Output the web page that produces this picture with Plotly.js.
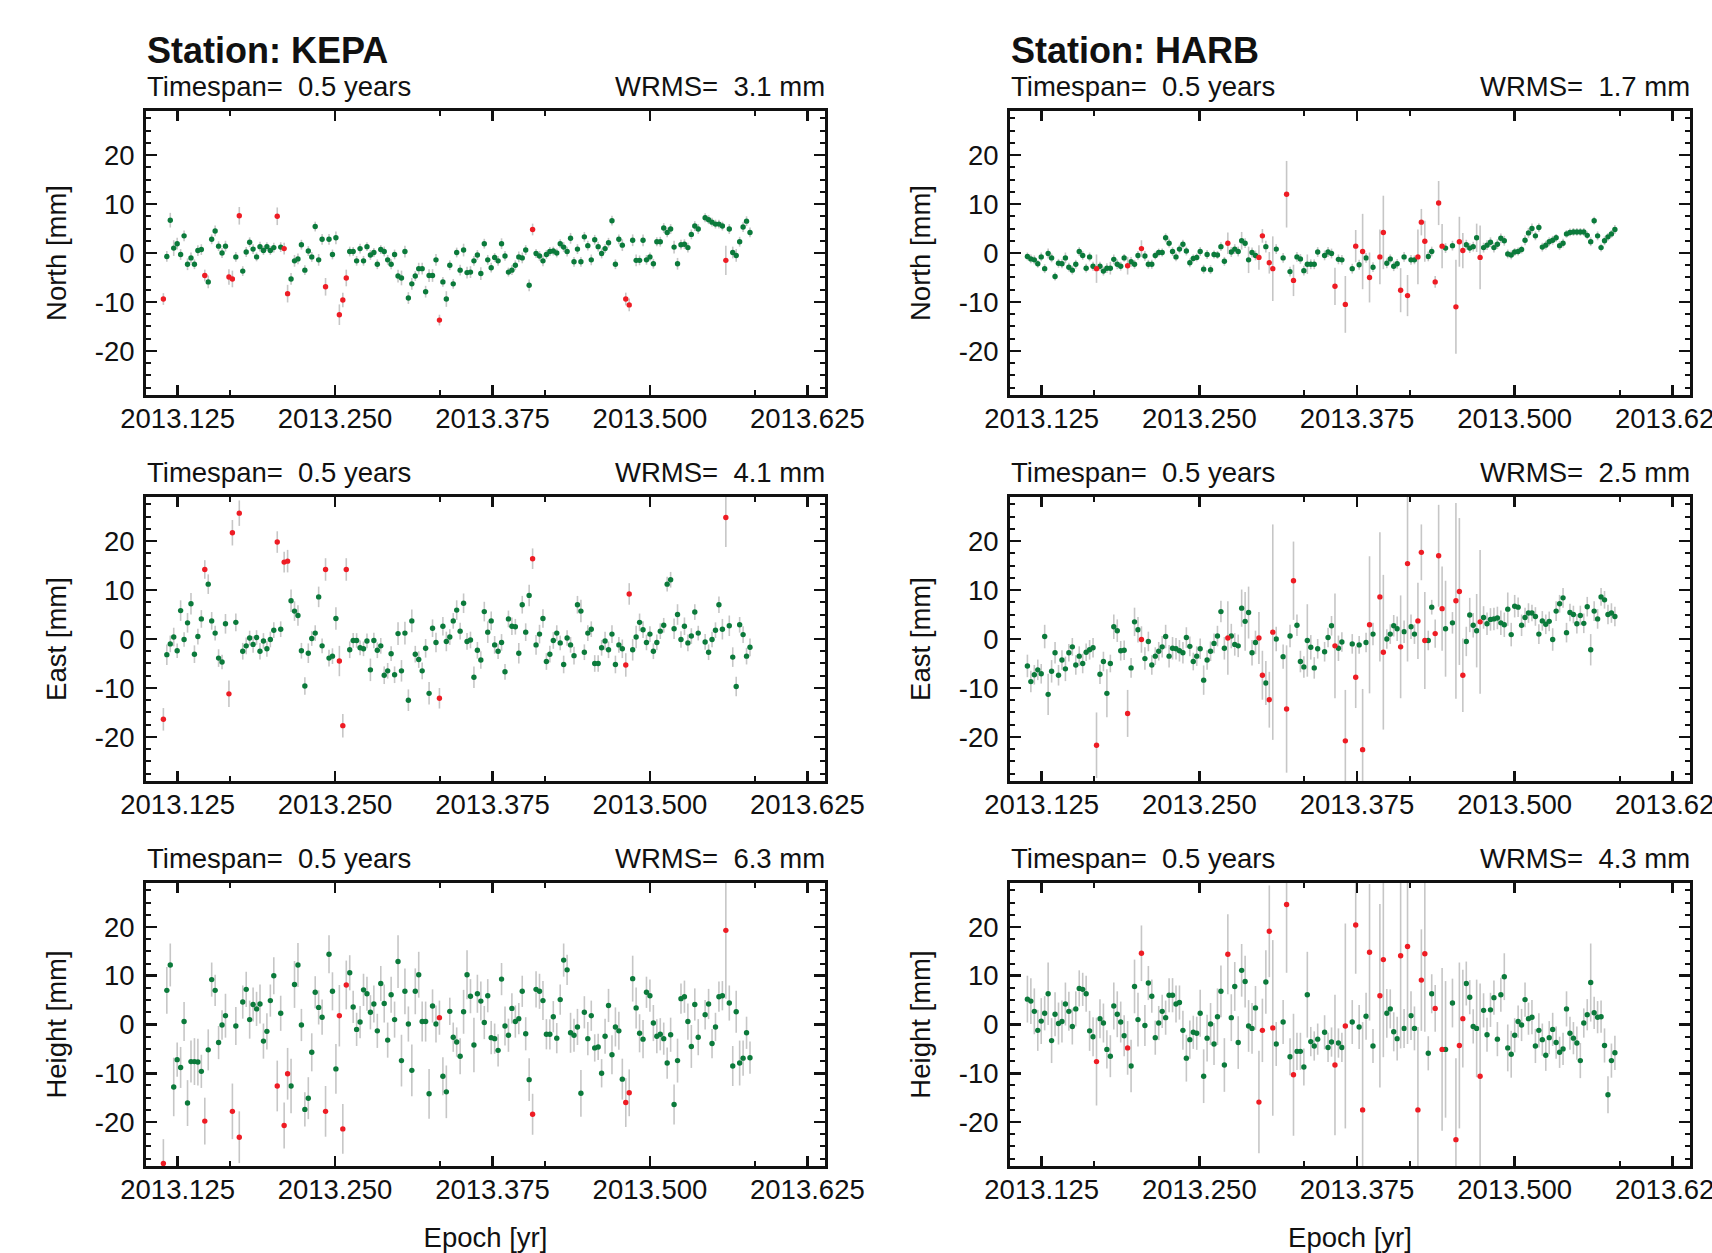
<!DOCTYPE html>
<html>
<head>
<meta charset="utf-8">
<script src="https://cdn.plot.ly/plotly-3.0.1.min.js"></script>
<style>
html, body { margin: 0; padding: 0; background: #ffffff; }
#chart { width: 1712px; height: 1253px; }
</style>
</head>
<body>
<div id="chart"></div>
<script>
// ---------------- DATA ----------------
const stations = ['KEPA', 'HARB'];
const componentTitles = ['North [mm]', 'East [mm]', 'Height [mm]'];
const timespanYears = 0.5;
const wrmsKEPA = [3.1, 4.1, 6.3];   // North, East, Height
const wrmsHARB = [1.7, 2.5, 4.3];
const xTickVals = [2013.125, 2013.25, 2013.375, 2013.5, 2013.625];
const xTickText = ['2013.125', '2013.250', '2013.375', '2013.500', '2013.625'];
const yTickVals = [-20, -10, 0, 10, 20];
const yTickText = ['-20', '-10', '0', '10', '20'];

// day of year 2013 of each daily solution
const kepaDoy = [
  42,43,44,45,46,47,48,49,50,51, 52,53,54,55,56,57,58,59,60,61,
  62,63,64,65,66,67,68,69,70,71, 72,73,74,75,76,77,78,79,80,81,
  82,83,84,85,86,87,88,89,90,91, 92,93,94,95,96,97,98,99,100,101,
  102,103,104,105,106,107,108,109,110,111, 112,113,114,115,116,117,118,119,120,121,
  122,123,124,125,126,127,128,129,130,131, 132,133,134,135,136,137,138,139,140,141,
  142,143,144,145,146,147,148,149,150,151, 152,153,154,155,156,157,158,159,160,161,
  162,163,164,165,166,167,168,169,170,171, 172,173,174,175,176,177,178,179,180,181,
  182,183,184,185,186,187,188,189,190,191, 192,193,194,195,196,197,
  199,200,201,202,203,204,205,206,207,208,209,210,211,212
];
const kepaOutlierDoy = [42, 54, 61, 62, 64, 75, 77, 78, 89, 93, 94, 95, 122, 149, 176, 177, 205];

const kepaNorth = [
  -9.4,-0.7,6.7,1.0,1.9,-0.3,3.5,-2.3,-1.0,-2.3, 0.5,0.7,-4.6,-5.9,2.8,4.5,1.4,0.0,1.4,-4.9,
  -5.3,-0.8,7.6,-3.7,0.2,2.2,0.8,-0.8,1.3,0.5, 1.3,0.5,1.1,7.5,1.2,0.9,-8.3,-5.3,-1.6,-1.2,
  1.7,-3.5,0.4,-0.8,5.4,-1.4,2.8,-6.9,2.8,-0.3, 3.1,-12.6,-9.6,-5.1,0.3,0.3,-1.6,0.9,-1.6,1.3,
  -0.4,0.1,-2.3,0.7,0.3,-1.4,-2.3,-0.3,-4.7,-5.1, 0.3,-9.2,-6.3,-4.7,-3.2,-3.2,-7.9,-4.6,-4.6,-1.4,
  -13.7,-5.9,-9.4,-2.5,-6.3,0.1,-3.5,0.6,-4.0,-3.9, -1.6,-0.4,-4.2,1.9,-1.4,-3.0,-0.9,-1.6,1.9,-0.6,
  -3.9,-3.5,-2.5,-0.8,-1.0,0.6,-6.6,4.8,-0.1,-0.6, -1.6,-0.3,0.3,0.4,0.0,1.9,1.2,0.3,3.0,-1.8,
  0.8,-1.8,3.3,1.5,-1.4,2.7,1.3,-0.1,0.9,2.1, 6.6,-2.3,2.8,1.6,-9.4,-10.6,2.6,-1.5,-1.5,2.6,
  -1.4,-0.8,-2.2,2.3,2.3,5.1,4.2,4.9,1.2,-2.2, 1.7,1.8,1.1,3.8,5.5,4.9,7.2,6.8,6.3,5.9,
  5.9,5.5,-1.5,4.9,0.1,-0.5,2.3,5.3,6.5,4.2
];
const kepaNorthSig = [
  1.2,1.1,1.5,1.6,1.2,1.1,1.1,1.2,1.1,1.0, 1.1,1.1,1.2,1.3,1.0,1.1,1.0,1.0,1.1,1.6,
  1.7,1.0,1.8,1.0,1.0,1.0,1.0,0.9,1.0,0.9, 0.9,0.9,1.0,1.8,1.0,1.2,1.8,1.2,1.2,1.1,
  1.0,1.0,1.0,1.0,1.0,1.2,1.1,1.8,1.1,1.0, 1.3,2.1,1.5,1.7,1.0,0.9,1.0,1.0,1.0,0.9,
  1.0,0.9,1.0,0.9,1.0,1.0,1.0,1.0,1.3,1.5, 1.2,1.2,1.2,1.0,1.2,1.2,1.2,1.3,1.3,1.2,
  1.1,1.0,1.6,1.0,1.0,1.0,1.1,1.3,1.2,1.2, 1.0,1.0,1.3,1.0,1.0,1.0,0.9,1.0,1.1,1.0,
  0.9,1.0,1.0,1.1,1.1,1.0,1.2,1.2,0.9,1.0, 1.1,0.9,0.9,0.9,0.9,0.9,1.0,1.0,1.1,1.0,
  1.0,1.0,1.0,1.0,1.1,1.0,1.0,1.0,0.9,1.0, 1.0,1.0,1.0,1.2,1.3,1.3,1.2,1.2,1.0,1.2,
  1.0,0.9,1.0,0.9,1.0,1.0,1.0,1.0,1.3,1.2, 1.0,1.0,1.0,1.0,1.0,1.0,0.9,0.9,0.9,0.9,
  0.9,0.9,3.0,1.0,1.2,1.3,1.0,1.0,1.0,1.0
];
const kepaEast = [
  -16.4,-3.2,-1.0,0.4,-2.4,5.8,-0.1,3.3,7.2,-3.1, 0.5,4.1,14.2,11.2,3.7,1.2,-3.9,-4.7,3.1,-11.2,
  21.7,3.4,25.7,-2.5,-1.4,0.2,-1.1,0.3,-2.5,-0.4, -2.0,-0.1,1.8,19.8,2.0,15.7,15.9,7.8,5.7,4.8,
  -2.4,-9.6,-2.9,0.1,1.2,8.6,-1.4,14.2,-3.9,-3.5, 4.2,-4.5,-17.7,14.2,-2.2,-0.3,-0.3,-1.8,-2.0,-0.4,
  -6.3,-0.3,-2.3,-1.4,-7.4,-6.5,-3.0,-7.3,1.1,-6.5, 1.2,-12.5,3.7,-3.1,-4.2,-6.5,-1.9,-11.1,2.2,-0.7,
  -12.1,2.6,-0.5,0.4,3.7,5.9,1.6,7.3,-0.5,-0.2, -7.8,-2.3,-4.3,5.6,1.4,3.7,-1.2,-2.5,-0.7,-6.7,
  4.1,2.6,2.5,-2.9,7.0,1.4,8.9,16.4,-1.2,1.0, 4.2,-4.6,-3.1,-0.3,1.2,-0.8,-5.2,0.2,-1.2,-3.4,
  7.0,5.7,-2.7,1.2,2.0,-5.0,-5.0,-1.8,-0.4,-2.2, 1.0,-5.2,-1.2,-2.0,-5.3,9.2,-2.2,0.4,3.4,1.9,
  -0.7,1.0,-2.5,-0.7,1.6,2.8,11.2,12.1,2.1,5.0, -0.1,2.6,-0.8,0.6,5.5,1.2,-0.6,-2.7,-0.1,1.8,
  7.0,2.0,24.8,2.7,-3.7,-9.7,2.9,0.9,-3.5,-1.7
];
const kepaEastSig = [
  2.3,2.1,1.7,1.9,1.5,2.1,1.5,2.0,2.2,1.8, 1.6,1.8,1.9,2.0,1.8,1.5,1.8,1.5,2.0,2.7,
  2.6,1.8,2.6,1.7,1.7,1.5,1.7,1.5,1.7,1.6, 1.6,1.6,1.6,2.2,1.6,2.1,2.3,2.3,2.0,2.1,
  1.6,1.8,2.0,1.5,1.6,2.1,1.5,2.3,1.7,1.6, 2.3,3.1,2.4,2.3,1.7,1.5,1.5,1.5,1.5,1.5,
  2.3,1.6,1.6,1.6,1.8,1.6,1.5,1.7,2.3,2.2, 2.3,2.2,2.3,1.7,1.7,1.7,1.9,2.3,1.8,2.0,
  2.1,1.9,2.0,1.6,1.6,2.0,1.7,2.0,1.7,1.7, 2.2,1.7,1.8,2.0,2.2,1.9,1.8,1.6,1.7,1.6,
  1.7,1.8,1.6,2.1,1.8,1.8,2.2,2.1,2.0,1.9, 1.9,1.7,1.7,1.7,1.6,1.5,1.8,1.6,1.6,1.8,
  1.8,2.3,1.6,1.6,1.6,1.7,1.7,1.6,1.9,1.7, 1.8,1.8,1.6,1.9,2.4,2.2,2.2,2.3,1.8,1.7,
  1.6,1.6,1.6,1.6,1.6,1.5,1.5,1.6,2.1,2.1, 1.7,1.8,1.7,1.6,1.6,1.5,1.6,1.6,1.6,1.6,
  1.7,2.1,6.0,2.1,2.0,2.0,1.6,1.7,1.7,1.8
];
const kepaHeight = [
  -28.5,7.0,12.2,-12.8,-7.2,-8.8,0.6,-16.1,-7.6,-7.6, -7.7,-9.6,-19.8,-5.2,9.2,7.0,-3.7,-0.1,1.8,null,
  -17.8,-0.3,-23.1,4.6,7.2,1.0,4.1,3.2,4.2,-3.4, -1.4,4.9,10.0,-12.6,2.3,-20.7,-10.1,-12.6,8.2,12.2,
  -0.1,-17.4,-15.1,-5.7,6.6,3.5,1.5,-17.8,14.4,6.8, -9.1,1.8,-21.4,8.1,10.6,3.6,-1.0,0.5,7.1,6.3,
  2.5,4.2,-1.3,8.4,4.3,-3.2,6.1,1.0,12.9,-7.4, 6.8,0.1,-9.4,6.8,10.2,0.6,0.6,-14.2,3.8,0.1,
  1.4,-10.6,-13.8,2.7,-2.6,-3.6,-6.5,2.6,10.2,5.8, -4.2,6.3,4.8,0.4,5.9,-2.7,-2.9,-5.3,9.3,-0.3,
  -2.2,3.3,0.6,1.2,6.8,-1.9,-11.3,-18.4,7.2,6.8, 4.9,-2.0,-2.0,1.6,-2.8,5.1,13.2,11.2,-1.7,-2.2,
  -0.5,-14.1,2.5,-2.9,1.8,-4.8,-4.6,-10.0,-2.4,3.9, -6.2,-0.5,-1.3,-11.2,-16.0,-14.0,9.4,3.4,-1.8,-3.0,
  6.6,5.9,0.3,-2.4,-2.0,-2.9,-7.9,-2.1,-16.4,-7.4, 5.3,5.7,0.6,-4.5,4.1,-2.6,2.0,4.2,-3.9,-0.5,
  5.7,5.9,19.3,4.4,-8.5,2.6,-7.9,-6.9,-1.7,-6.8
];
const kepaHeightSig = [
  5.0,4.8,4.4,6.0,3.5,4.2,4.0,4.7,4.3,4.8, 4.8,3.4,4.8,4.2,3.5,3.2,3.4,3.0,4.5,5.0,
  5.7,3.9,5.3,3.4,3.6,3.9,3.5,3.5,4.0,3.6, 3.7,3.3,3.8,5.2,3.6,4.7,5.3,5.6,4.8,4.5,
  3.3,3.5,4.3,3.9,3.3,3.5,3.6,5.2,3.9,3.9, 5.1,6.3,5.1,5.0,3.6,3.3,3.4,3.3,3.3,3.5,
  3.5,3.8,3.5,3.6,3.9,3.6,3.7,3.7,5.4,5.3, 4.7,3.6,5.3,4.7,4.7,4.1,4.1,5.1,3.4,3.8,
  3.5,3.9,5.4,2.8,3.0,3.0,3.7,4.5,5.0,3.5, 5.6,3.9,4.0,3.4,3.4,3.4,3.1,3.3,3.3,4.0,
  3.4,3.1,3.3,3.2,3.2,3.4,4.4,4.2,3.7,3.6, 4.0,3.1,3.1,3.2,3.1,3.1,3.4,3.1,4.1,3.4,
  3.7,4.8,3.3,3.4,3.1,2.8,2.7,2.9,3.6,3.4, 4.0,4.0,3.9,4.2,5.0,4.8,4.7,4.2,3.9,3.9,
  3.2,3.3,3.7,3.5,3.3,3.3,3.2,3.5,4.1,4.5, 3.1,3.3,3.7,4.4,3.3,3.7,3.0,3.1,3.0,2.9,
  3.1,3.0,14.0,3.6,4.1,4.3,4.6,3.6,3.3,3.3
];

const harbDoy = [
  42,43,44,45,46,47,48,49,50,51, 52,53,54,55,56,57,58,59,60,61,
  62,63,64,65,66,67,68,69,70,71, 72,73,74,75,76,77,78,79,80,81,
  82,83,84,85,86,87,88,89,90,91, 92,93,94,95,96,97,98,99,100,101,
  102,103,104,105,106,107,108,109,110,111, 112,113,114,
  116,117,118,119,120,121,122,123,124,125,126,
  128,129,130,131,132,133,134,
  136,137,138,139,140,141,142,
  144,145,146,147,148,149,150,151,152,153, 154,155,156,157,158,159,160,161,162,163,
  165,166,167,168,169,170,171,172,173,174, 175,176,177,178,179,180,181,182,183,184,
  185,186,187,188,189,190,191,192,193,194, 195,196,197,198,199,200,201,202,203,204,
  205,206,207,208,209,210,211,212
];
const harbOutlierDoy = [62, 71, 75, 100, 109, 110, 112, 113, 117, 119, 131, 134, 137, 139, 141,
  144, 145, 150, 152, 155, 156, 157, 160, 161, 162, 166, 167, 168, 173];

const harbNorth = [
  -0.7,-1.2,-1.4,-2.2,-0.8,-3.2,-0.1,-1.0,-4.8,-2.1, -2.2,-1.0,-2.9,-3.5,-2.3,0.3,-0.5,-3.1,-0.8,-2.7,
  -3.2,-2.7,-3.7,-3.1,-3.1,-1.3,-2.3,-2.7,-1.0,-2.6, -1.8,-2.3,-0.5,0.9,-0.6,-2.3,-2.3,-0.5,0.1,0.1,
  3.1,2.0,0.3,-0.8,0.8,1.8,0.4,-2.0,-1.1,-0.9, 0.3,-3.3,-0.3,-3.4,-0.3,-0.4,1.3,-1.7,2.0,0.2,
  0.8,0.3,2.5,2.0,-1.4,0.1,-0.5,-0.9,3.5,1.3, -2.0,-3.2,0.8,-1.0,12.0,-3.8,-5.6,-0.8,-1.2,-3.6,
  -2.3,-2.3,-2.3,0.2,-0.5,0.2,-0.1,-6.8,-1.3,-1.4, -10.5,-3.2,1.4,-2.4,0.3,-1.0,-5.0,-2.9,-0.8,4.2,
  -2.1,-1.2,-2.7,-2.2,-7.6,-0.8,-8.7,-1.4,-1.4,-0.8, 6.3,2.4,-0.7,0.3,-5.9,10.2,1.4,1.0,1.5,-11.0,
  2.3,0.5,1.7,1.0,1.3,3.1,-0.9,1.1,1.6,2.2, 1.1,1.8,3.0,2.5,-0.2,-0.4,0.2,0.3,0.7,2.6,
  4.1,5.0,3.5,5.2,1.2,1.6,2.3,2.6,3.1,1.5, 2.0,3.9,4.2,4.3,4.3,4.3,4.3,3.6,2.3,6.6,
  3.5,1.1,2.5,3.3,3.9,4.8
];
const harbNorthSig = [
  0.8,0.9,0.9,0.8,0.9,0.9,1.0,0.9,0.8,0.9, 0.9,1.1,0.9,0.9,0.9,0.9,0.9,0.9,0.9,0.9,
  2.9,0.9,0.9,1.0,1.3,1.0,1.0,0.9,0.8,1.8, 1.0,0.9,0.9,1.7,1.0,0.9,0.9,0.8,0.8,0.8,
  0.9,0.9,0.9,0.9,0.9,0.9,0.9,0.9,0.8,0.8, 0.9,0.9,0.9,0.9,0.8,0.8,0.9,0.9,2.2,1.0,
  1.0,1.0,1.8,1.0,2.7,1.0,1.0,2.5,1.4,1.2, 2.2,6.6,1.0,1.0,6.8,1.0,3.2,1.0,1.0,1.0,
  2.0,1.0,1.0,1.0,1.0,1.0,1.0,3.8,1.0,1.0, 5.8,1.0,3.3,1.0,7.7,1.0,5.1,1.0,5.6,7.5,
  1.0,0.9,1.0,1.0,4.5,1.0,4.2,1.0,0.9,5.6, 2.7,4.2,1.0,1.0,1.2,4.5,4.5,1.0,1.0,9.6,
  5.1,3.6,1.0,1.0,1.0,2.9,6.5,1.0,1.0,1.0, 1.0,1.0,1.0,1.0,0.9,0.9,0.8,0.8,0.8,1.0,
  1.0,1.0,0.9,0.9,0.9,0.9,0.9,0.9,0.8,0.9, 0.9,0.8,0.8,0.8,0.8,0.8,0.8,0.8,0.9,0.8,
  0.9,0.8,0.9,0.8,0.8,0.9
];
const harbEast = [
  -5.5,-8.7,-7.3,-6.3,-7.1,0.5,-11.3,-6.6,-2.8,-7.4, -4.3,-6.1,-2.8,-1.6,-5.3,-3.5,-5.0,-2.7,-2.2,-1.8,
  -21.7,-7.2,-4.6,-11.1,-5.0,2.5,1.7,-2.4,-2.3,-15.2, -5.9,3.5,1.9,-0.1,-4.0,-0.5,-5.3,-3.5,-2.5,-1.6,
  0.5,-3.5,-1.9,-2.0,-2.4,-2.8,0.3,-1.5,-4.6,-3.5, -2.0,-8.4,-4.3,-2.5,-0.9,0.6,5.6,-1.9,0.2,0.6,
  -1.1,-1.4,6.3,3.6,5.4,-2.8,-0.7,0.2,-7.4,-9.0, -12.4,1.4,0.0,-3.6,-14.3,0.6,11.9,2.8,-4.6,-5.7,
  -0.3,-1.7,-5.9,-2.0,-2.6,0.3,2.7,-1.4,-1.9,-0.6, -20.8,-1.0,-7.8,-1.2,-22.6,-0.7,2.9,1.0,8.6,-2.7,
  0.0,1.0,2.7,2.1,-1.6,1.5,15.4,2.5,1.0,3.7, 17.7,-0.3,-0.3,6.5,1.1,17.0,6.2,2.1,3.3,7.8,
  9.7,-7.4,-0.5,4.9,2.8,1.7,3.5,4.4,3.1,4.0, 4.1,4.3,3.3,2.9,6.1,0.9,6.7,6.5,2.8,4.4,
  5.3,5.3,4.6,1.0,3.7,3.0,3.6,-0.1,5.7,7.2, 8.4,1.3,5.4,5.0,3.1,4.8,3.2,6.6,-2.2,5.7,
  4.1,8.6,8.0,5.0,5.3,4.6
];
const harbEastSig = [
  2.3,2.2,2.0,2.1,2.0,2.4,4.2,2.3,2.2,2.1, 2.0,2.5,1.8,1.8,2.0,2.0,2.0,1.8,2.0,2.0,
  6.7,2.0,2.0,4.9,1.8,2.5,2.3,2.0,2.0,4.8, 2.0,2.9,2.6,2.7,2.3,2.0,2.0,1.8,1.9,2.2,
  2.4,2.3,2.3,2.2,2.2,2.2,2.1,2.0,1.8,2.0, 2.1,3.0,2.0,2.0,2.0,2.1,2.2,2.3,7.5,2.5,
  2.3,2.3,3.8,6.0,5.3,2.6,2.4,5.3,5.0,4.5, 5.7,22.0,2.5,2.5,13.0,2.3,8.0,2.2,2.2,2.2,
  7.4,2.5,2.2,2.0,2.0,2.0,2.0,10.7,2.6,2.0, 10.4,2.0,6.3,1.8,12.4,2.0,14.0,2.3,13.2,15.8,
  2.0,2.0,2.2,2.5,10.5,2.3,20.0,2.5,2.0,7.8, 5.7,9.9,2.0,1.5,2.9,10.4,8.6,9.8,2.2,20.0,
  15.0,7.5,3.0,3.5,2.5,7.5,14.7,2.3,2.3,2.3, 2.3,2.3,2.5,2.5,3.4,2.4,2.3,2.0,2.2,2.0,
  2.0,1.7,1.9,2.0,2.0,2.0,2.0,2.3,2.0,1.8, 2.0,2.0,1.8,1.8,2.0,2.0,2.0,2.0,3.2,2.0,
  2.0,1.8,1.8,2.0,2.0,2.0
];
const harbHeight = [
  5.2,4.8,2.7,-1.2,0.7,2.3,6.3,-3.3,2.1,0.2, 0.6,4.2,2.7,-0.4,3.2,7.4,7.2,6.3,-1.3,-2.5,
  -7.6,1.2,0.3,-5.1,-6.5,3.8,2.1,0.5,-2.3,-4.8, -8.5,7.8,1.0,14.6,-0.2,8.5,5.8,-2.7,0.3,2.7,
  1.4,6.0,6.0,4.2,4.5,-1.2,-6.9,-3.1,-1.6,-1.8, 2.3,-10.6,-2.8,0.1,-4.0,1.6,6.8,-8.3,14.4,1.4,
  7.8,-3.7,11.1,8.8,-0.3,-0.8,3.4,-15.9,-1.2,8.7, 19.1,-0.7,-4.0,0.5,24.6,-6.6,-10.3,-5.5,-5.5,-8.7,
  6.1,-3.5,-4.4,-3.0,-1.6,-4.7,-3.6,-8.3,-3.8,-4.7, -0.3,0.5,20.4,-0.5,-17.5,1.7,14.8,-4.4,5.9,13.3,
  2.3,3.2,-1.5,-2.9,14.1,-0.8,16.0,1.8,-0.8,-17.5, 9.1,14.5,-5.9,6.3,3.3,null,-5.1,-5.1,4.4,-23.6,
  -4.3,1.2,8.4,5.6,-0.4,-0.8,-10.6,2.9,-2.1,3.0, 5.5,-3.0,6.1,9.8,-4.8,-6.1,-2.2,0.6,-0.1,5.1,
  1.2,1.5,-4.4,-1.2,-3.1,-6.3,-2.7,-1.0,-3.7,-5.7, -5.0,3.2,-1.8,-2.8,-3.8,-7.4,0.3,2.0,8.6,2.4,
  1.5,1.6,-4.3,-14.4,-7.4,-5.8
];
const harbHeightSig = [
  4.8,4.7,4.7,4.2,4.7,3.5,6.4,4.6,4.5,4.3, 4.3,4.4,4.0,3.7,3.6,3.7,3.4,3.7,4.1,4.0,
  9.0,4.0,4.0,3.9,4.3,4.8,4.7,4.2,4.2,5.5, 5.4,5.5,5.5,5.7,4.2,3.5,3.4,3.5,3.5,3.4,
  3.5,3.5,3.5,3.8,3.5,4.0,4.8,3.9,3.4,3.4, 4.8,5.5,4.8,4.3,4.3,5.8,5.3,5.5,8.2,4.8,
  5.0,5.4,5.4,5.3,5.3,5.2,4.5,10.5,6.5,6.5, 9.4,18.0,4.5,4.5,14.0,3.8,12.5,3.8,3.8,3.8,
  8.8,3.0,3.0,3.2,3.5,3.0,3.0,14.4,3.0,3.0, 21.0,4.5,10.0,4.5,18.0,4.8,14.0,3.5,18.8,20.0,
  5.0,4.0,4.0,4.5,19.0,4.0,20.0,5.0,4.5,17.0, 10.4,16.0,3.5,4.0,4.8,20.0,16.7,14.0,5.0,16.7,
  17.0,10.0,4.5,3.5,3.5,10.0,19.0,3.5,3.5,3.5, 3.5,3.5,3.5,4.8,4.8,4.8,3.5,3.3,3.3,3.5,
  3.3,3.5,3.5,3.5,3.3,3.2,3.4,3.4,3.3,3.2, 3.3,3.6,3.4,3.3,3.4,3.6,3.0,3.2,8.0,3.3,
  3.3,3.3,3.5,3.8,3.5,3.5
];

// ---------------- LAYOUT GEOMETRY (px on the 1712x1253 page) ----------------
const W = 1712, H = 1253;
const colPx = [[146, 825], [1010, 1690]];
const rowPx = [[111, 395], [497, 781], [883, 1166]];
const FONT = 'Liberation Sans, Arial, Helvetica, sans-serif';
const INK = '#111111';
const GREEN = '#0b7a3b';
const RED = '#ee1c24';
const BAR = '#c6c6c6';

function toEpoch(doy) { return 2013 + (doy - 0.5) / 365; }

const panels = [
  { doy: kepaDoy, out: kepaOutlierDoy, val: kepaNorth,  sig: kepaNorthSig },
  { doy: harbDoy, out: harbOutlierDoy, val: harbNorth,  sig: harbNorthSig },
  { doy: kepaDoy, out: kepaOutlierDoy, val: kepaEast,   sig: kepaEastSig },
  { doy: harbDoy, out: harbOutlierDoy, val: harbEast,   sig: harbEastSig },
  { doy: kepaDoy, out: kepaOutlierDoy, val: kepaHeight, sig: kepaHeightSig },
  { doy: harbDoy, out: harbOutlierDoy, val: harbHeight, sig: harbHeightSig }
];

const traces = [];
const layout = {
  width: W, height: H,
  margin: { l: 0, r: 0, t: 0, b: 0 },
  paper_bgcolor: '#ffffff', plot_bgcolor: '#ffffff',
  showlegend: false,
  font: { family: FONT, size: 27.5, color: INK },
  annotations: []
};

panels.forEach(function (p, i) {
  const row = Math.floor(i / 2), col = i % 2;
  const n = i + 1;
  const xa = 'x' + (n === 1 ? '' : n), ya = 'y' + (n === 1 ? '' : n);
  const groups = { ok: { x: [], y: [], e: [] }, bad: { x: [], y: [], e: [] } };
  p.doy.forEach(function (d, k) {
    if (p.val[k] === null) return;
    const g = p.out.indexOf(d) >= 0 ? groups.bad : groups.ok;
    g.x.push(toEpoch(d)); g.y.push(p.val[k]); g.e.push(p.sig[k]);
  });
  [['ok', GREEN], ['bad', RED]].forEach(function (gc) {
    const g = groups[gc[0]];
    traces.push({
      type: 'scatter', mode: 'markers', x: g.x, y: g.y,
      xaxis: xa, yaxis: ya, hoverinfo: 'skip',
      marker: { size: 5.4, color: gc[1], line: { width: 0 } },
      error_y: { type: 'data', array: g.e, visible: true, color: BAR, thickness: 1.6, width: 0 }
    });
  });

  const xKey = 'xaxis' + (n === 1 ? '' : n), yKey = 'yaxis' + (n === 1 ? '' : n);
  layout[xKey] = {
    domain: [colPx[col][0] / W, colPx[col][1] / W],
    anchor: ya, range: [2013.0999, 2013.639],
    tickmode: 'array', tickvals: xTickVals, ticktext: xTickText,
    ticks: 'inside', ticklen: 10, tickwidth: 2.5, tickcolor: INK,
    minor: { tickmode: 'linear', tick0: 2013, dtick: 1 / 12, ticks: 'inside', ticklen: 5, tickwidth: 2, tickcolor: INK, showgrid: false },
    showline: true, linewidth: 3, linecolor: INK, mirror: 'allticks',
    showgrid: false, zeroline: false, ticklabelstandoff: -3,
    ticklabeloverflow: 'allow',
    tickfont: { family: FONT, size: 27.5, color: INK }
  };
  if (row === 2) {
    layout[xKey].title = { text: 'Epoch [yr]', standoff: 25, font: { family: FONT, size: 27.5, color: INK } };
  }
  layout[yKey] = {
    domain: [1 - rowPx[row][1] / H, 1 - rowPx[row][0] / H],
    anchor: xa, range: [-29, 29],
    tickmode: 'array', tickvals: yTickVals, ticktext: yTickText,
    ticks: 'inside', ticklen: 11, tickwidth: 2.5, tickcolor: INK,
    minor: { tickmode: 'linear', tick0: 0, dtick: 2.5, ticks: 'inside', ticklen: 5, tickwidth: 2, tickcolor: INK, showgrid: false },
    showline: true, linewidth: 3, linecolor: INK, mirror: 'allticks',
    showgrid: false, zeroline: false, ticklabelstandoff: 3,
    tickfont: { family: FONT, size: 27.5, color: INK },
    title: { text: componentTitles[row], standoff: 20.5, font: { family: FONT, size: 27.5, color: INK } }
  };

  const wrms = (col === 0 ? wrmsKEPA : wrmsHARB)[row];
  layout.annotations.push({
    xref: 'paper', yref: 'paper', x: (colPx[col][0] - 1.5) / W, y: 1 - (rowPx[row][0] - 24.5) / H,
    xanchor: 'left', yanchor: 'middle', showarrow: false,
    text: 'Timespan=\u00a0 ' + timespanYears.toFixed(1) + ' years',
    font: { family: FONT, size: 27.5, color: INK }
  });
  layout.annotations.push({
    xref: 'paper', yref: 'paper', x: (colPx[col][1] + 2) / W, y: 1 - (rowPx[row][0] - 24.5) / H,
    xanchor: 'right', yanchor: 'middle', showarrow: false,
    text: 'WRMS=\u00a0 ' + wrms.toFixed(1) + ' mm',
    font: { family: FONT, size: 27.5, color: INK }
  });
});

stations.forEach(function (s, col) {
  layout.annotations.push({
    xref: 'paper', yref: 'paper', x: (colPx[col][0] - 1.5) / W, y: 1 - 50.5 / H,
    xanchor: 'left', yanchor: 'middle', showarrow: false,
    text: 'Station: ' + s,
    font: { family: FONT, size: 36, color: INK, weight: 700 }
  });
});

Plotly.newPlot('chart', traces, layout, { staticPlot: true, displayModeBar: false });
</script>
</body>
</html>
